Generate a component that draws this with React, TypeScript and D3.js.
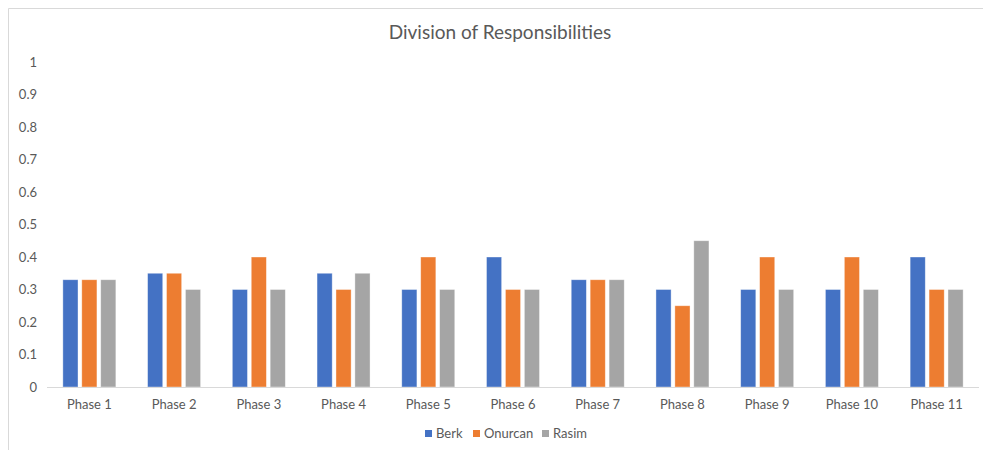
import React from "react";
import * as d3 from "d3";

const categories = ["Phase 1", "Phase 2", "Phase 3", "Phase 4", "Phase 5", "Phase 6", "Phase 7", "Phase 8", "Phase 9", "Phase 10", "Phase 11"];
const seriesNames = ["Berk", "Onurcan", "Rasim"];
const berk = [0.33, 0.35, 0.3, 0.35, 0.3, 0.4, 0.33, 0.3, 0.3, 0.3, 0.4];
const onurcan = [0.33, 0.35, 0.4, 0.3, 0.4, 0.3, 0.33, 0.25, 0.4, 0.4, 0.3];
const rasim = [0.33, 0.3, 0.3, 0.35, 0.3, 0.3, 0.33, 0.45, 0.3, 0.3, 0.3];
const yTicks = [0, 0.1, 0.2, 0.3, 0.4, 0.5, 0.6, 0.7, 0.8, 0.9, 1];
const colors = ["#4472C4", "#ED7D31", "#A5A5A5"];

const W = 983;
const H = 450;
const FONT = "Lato, 'Open Sans', sans-serif";
const TEXT = "#595959";
const GROUP = 53;

export default function App() {
  const series = [berk, onurcan, rasim];
  const x = d3.scaleBand<string>().domain(categories).range([47, 979]).paddingInner(0).paddingOuter(0);
  const inner = d3.scaleBand<number>().domain([0, 1, 2]).range([0, GROUP]).paddingInner(0.2);
  const y = d3.scaleLinear().domain([0, 1]).range([387, 62]);
  const groupOffset = (x.bandwidth() - GROUP) / 2;

  return (
    <svg width={W} height={H} style={{ position: "absolute", left: 0, top: 0, background: "#fff" }}>
      <rect x={0} y={0} width={W} height={H} fill="#fff" />
      {/* chart frame */}
      <line x1={8.5} y1={8.5} x2={W} y2={8.5} stroke="#D9D9D9" strokeWidth={1} />
      <line x1={8.5} y1={8.5} x2={8.5} y2={H} stroke="#D9D9D9" strokeWidth={1} />

      <text x={500} y={39} textAnchor="middle" fontFamily={FONT} fontSize={19} fill={TEXT}>
        Division of Responsibilities
      </text>

      {yTicks.map((t) => (
        <text key={t} x={37} y={y(t) + 4.5} textAnchor="end" fontFamily={FONT} fontSize={13} fill={TEXT}>
          {String(t)}
        </text>
      ))}

      {categories.map((c, i) => (
        <g key={c} transform={`translate(${(x(c) as number) + groupOffset},0)`}>
          {series.map((s, k) => (
            <rect
              key={k}
              x={inner(k) as number}
              y={y(s[i])}
              width={inner.bandwidth()}
              height={y(0) - y(s[i])}
              fill={colors[k]}
              stroke="#fff"
              strokeOpacity={0.5}
              strokeWidth={0.75}
            />
          ))}
        </g>
      ))}

      <line x1={47} x2={979} y1={387.5} y2={387.5} stroke="#D9D9D9" strokeWidth={1} />

      {categories.map((c) => (
        <text
          key={c}
          x={(x(c) as number) + x.bandwidth() / 2}
          y={409}
          textAnchor="middle"
          fontFamily={FONT}
          fontSize={13}
          fill={TEXT}
        >
          {c}
        </text>
      ))}

      {(() => {
        const starts = [425, 473, 542];
        return seriesNames.map((n, k) => (
          <g key={n} transform={`translate(${starts[k]},0)`}>
            <rect x={0} y={430} width={7} height={7} fill={colors[k]} />
            <text x={11} y={438} fontFamily={FONT} fontSize={13} fill={TEXT}>
              {n}
            </text>
          </g>
        ));
      })()}
    </svg>
  );
}
